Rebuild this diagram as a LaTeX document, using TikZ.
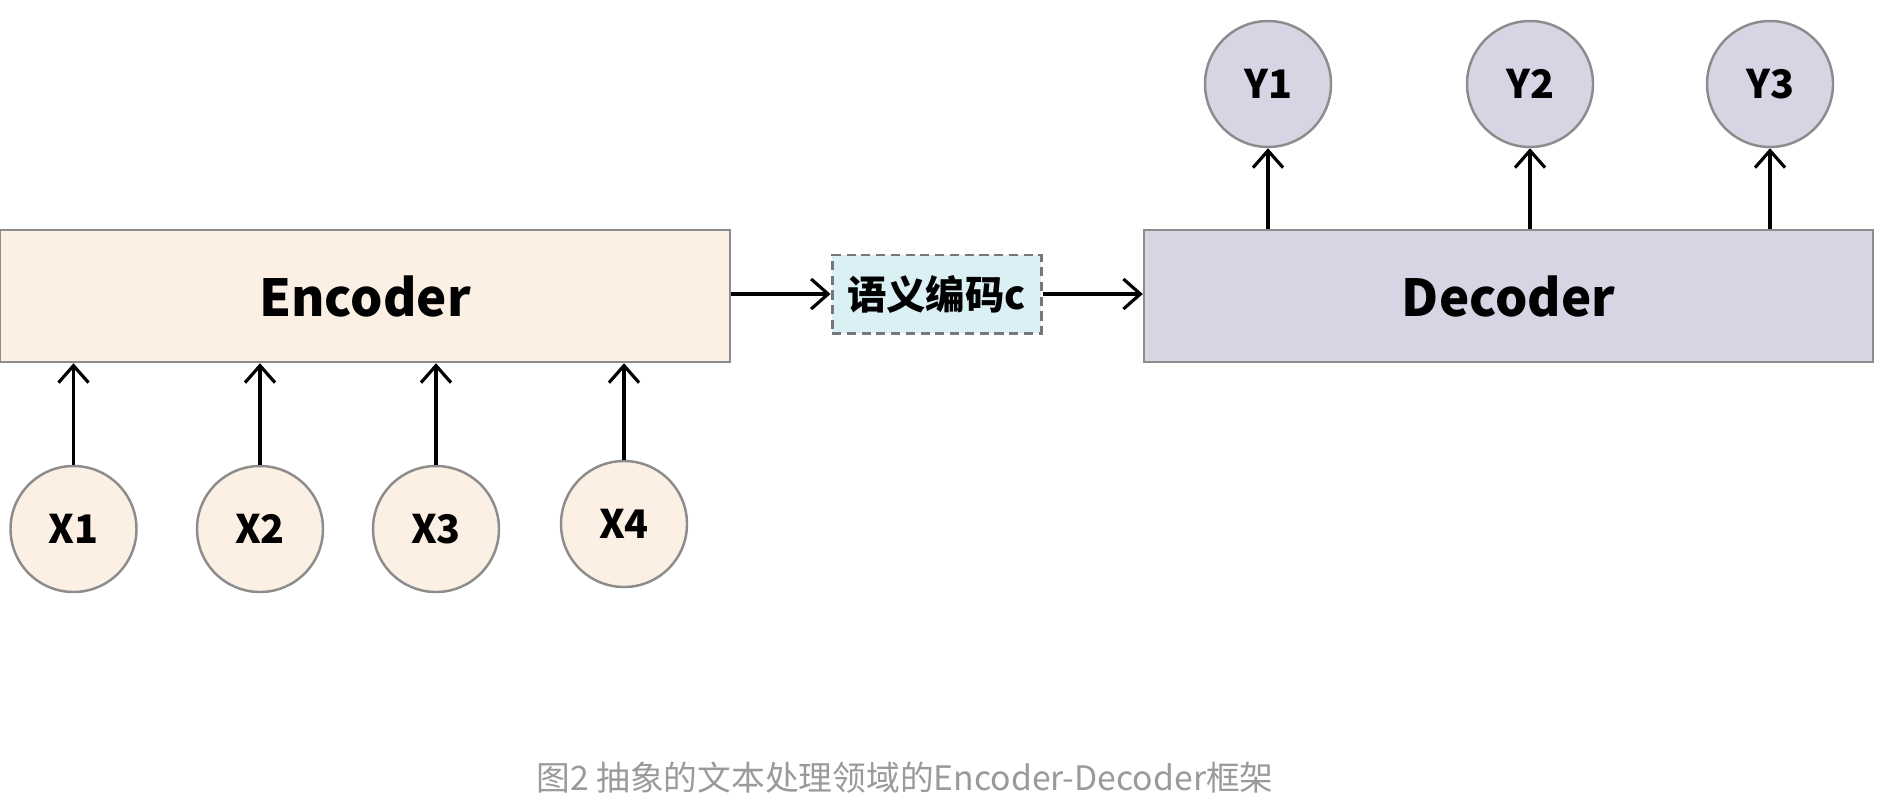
\documentclass[tikz,border=0pt]{standalone}
\usepackage{fontspec}
\setmainfont{Noto Sans CJK SC}
\usetikzlibrary{arrows.meta}
\definecolor{encfill}{HTML}{FCF0E4}
\definecolor{decfill}{HTML}{D9D4E4}
\definecolor{codefill}{HTML}{DBF0F4}
\definecolor{edgegray}{HTML}{8C8C8C}
\definecolor{capgray}{HTML}{9A9A9A}
\begin{document}
\begin{tikzpicture}[>={Straight Barb[length=1.7mm,width=3mm]},line width=0.9pt,
	block/.style={draw=edgegray,line width=0.7pt,minimum height=1.32cm,inner sep=0pt,font=\fontsize{14.5}{16}\selectfont\bfseries},
	token/.style={circle,draw=edgegray,line width=0.7pt,minimum size=1.26cm,inner sep=0pt,font=\fontsize{11.2}{13}\selectfont\bfseries}]
				\useasboundingbox (0,0) rectangle (18.8,-8.11);
				\node[block,fill=encfill,minimum width=7.3cm] (enc) at (3.65,-2.96) {Encoder};
				\node[block,fill=decfill,minimum width=7.29cm] (dec) at (15.085,-2.96) {Decoder};
				\node[draw=edgegray!85!black,dash pattern=on 2.6pt off 1.6pt,line width=0.85pt,fill=codefill,minimum width=2.09cm,minimum height=0.78cm,inner sep=0pt,font=\fontsize{11.2}{13}\selectfont\bfseries] (code) at (9.365,-2.94) {语义编码c};
				\node[token,fill=encfill] (x1) at (0.735,-5.29) {X1};
				\node[token,fill=encfill] (x2) at (2.60,-5.29) {X2};
				\node[token,fill=encfill] (x3) at (4.36,-5.29) {X3};
				\node[token,fill=encfill] (x4) at (6.24,-5.24) {X4};
				\node[token,fill=decfill] (y1) at (12.68,-0.84) {Y1};
				\node[token,fill=decfill] (y2) at (15.30,-0.84) {Y2};
				\node[token,fill=decfill] (y3) at (17.70,-0.84) {Y3};
				\draw[->] (x1.north) -- (x1 |- enc.south);
				\draw[->] (x2.north) -- (x2 |- enc.south);
				\draw[->] (x3.north) -- (x3 |- enc.south);
				\draw[->] (x4.north) -- (x4 |- enc.south);
				\draw[->] (enc.east |- code) -- (code.west);
				\draw[->] (code.east) -- (code -| dec.west);
				\draw[->] (y1 |- dec.north) -- (y1.south);
				\draw[->] (y2 |- dec.north) -- (y2.south);
				\draw[->] (y3 |- dec.north) -- (y3.south);
				\node[text=capgray,font=\fontsize{9.6}{11}\selectfont] (cap) at (9.05,-7.78) {图2 抽象的文本处理领域的Encoder-Decoder框架};
\end{tikzpicture}
\end{document}
